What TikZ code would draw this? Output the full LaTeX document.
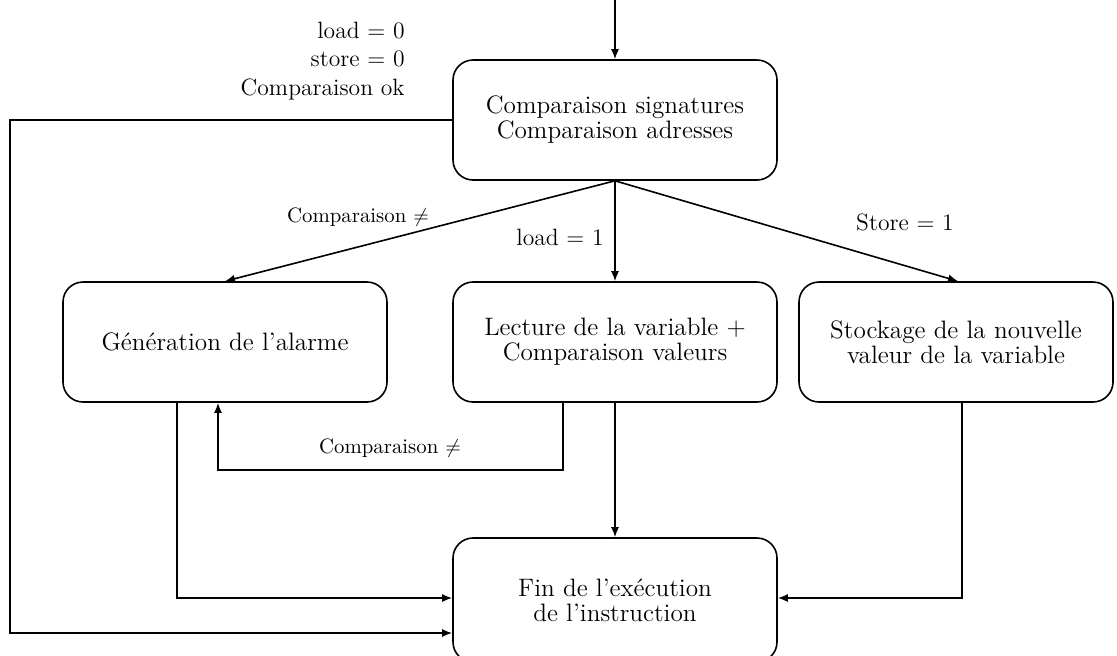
\documentclass[tikz,border=0pt]{standalone}
\usepackage{fontspec}
\usetikzlibrary{arrows.meta}

\begin{document}
\begin{tikzpicture}[x=0.5pt,y=-0.5pt,
    etat/.style={draw,line width=0.8pt,rounded corners=10pt,
      minimum width=162pt,minimum height=60pt,align=center,
      inner sep=0pt,font=\fontsize{12.6}{12.5}\selectfont},
    fleche/.style={line width=0.8pt,-{Latex[length=5pt,width=4pt]}},
    etiq/.style={inner sep=0pt,font=\fontsize{11.8}{14.2}\selectfont},
    petit/.style={inner sep=0pt,font=\fontsize{10.4}{11}\selectfont}]
    \useasboundingbox (0,0) rectangle (1117,655);

    % les etats
    \node[etat] (comp) at (615,120)
      {Comparaison signatures\\Comparaison adresses};
    \node[etat] (alarme) at (225,342) {Génération de l’alarme};
    \node[etat] (lecture) at (615,342)
      {Lecture de la variable +\\Comparaison valeurs};
    \node[etat,minimum width=157pt] (stock) at (956,342)
      {Stockage de la nouvelle\\valeur de la variable};
    \node[etat,minimum height=62pt] (fin) at (615,600)
      {Fin de l’exécution\\de l’instruction};

    % les conditions
    \node[etiq,align=right,anchor=east] (cond) at (405,61)
      {load = 0\\store = 0\\Comparaison ok};
    \node[petit] (neqhaut) at (358,217) {Comparaison $\neq$};
    \node[etiq] (lload) at (560,237) {load = 1};
    \node[etiq] (lstore) at (905,222) {Store = 1};
    \node[petit] (neqbas) at (390,448) {Comparaison $\neq$};

    % points de passage
    \coordinate (entree) at (615,0);
    \coordinate (coin) at (10,633);
    \coordinate (pal) at (177,598);
    \coordinate (pst) at (962,598);
    \coordinate (ret) at (563,470);
    \coordinate (retg) at (218,470);

    \draw[fleche] (entree) -- (comp);
    \draw[fleche] (comp.south) -- (alarme.north);
    \draw[fleche] (comp.south) -- (lecture.north);
    \draw[fleche] (comp.south) -- ([xshift=1pt]stock.north);
    \draw[fleche] (comp.west) -- (comp.west -| coin) -- (coin)
      -- (coin -| fin.west);
    \draw[fleche] (alarme.south -| pal) -- (pal) -- (pal -| fin.west);
    \draw[fleche] (stock.south -| pst) -- (pst) -- (pst -| fin.east);
    \draw[fleche] (lecture.south -| ret) -- (ret) -- (retg)
      -- (retg |- alarme.south);
    \draw[fleche] (lecture) -- (fin);
\end{tikzpicture}
\end{document}
